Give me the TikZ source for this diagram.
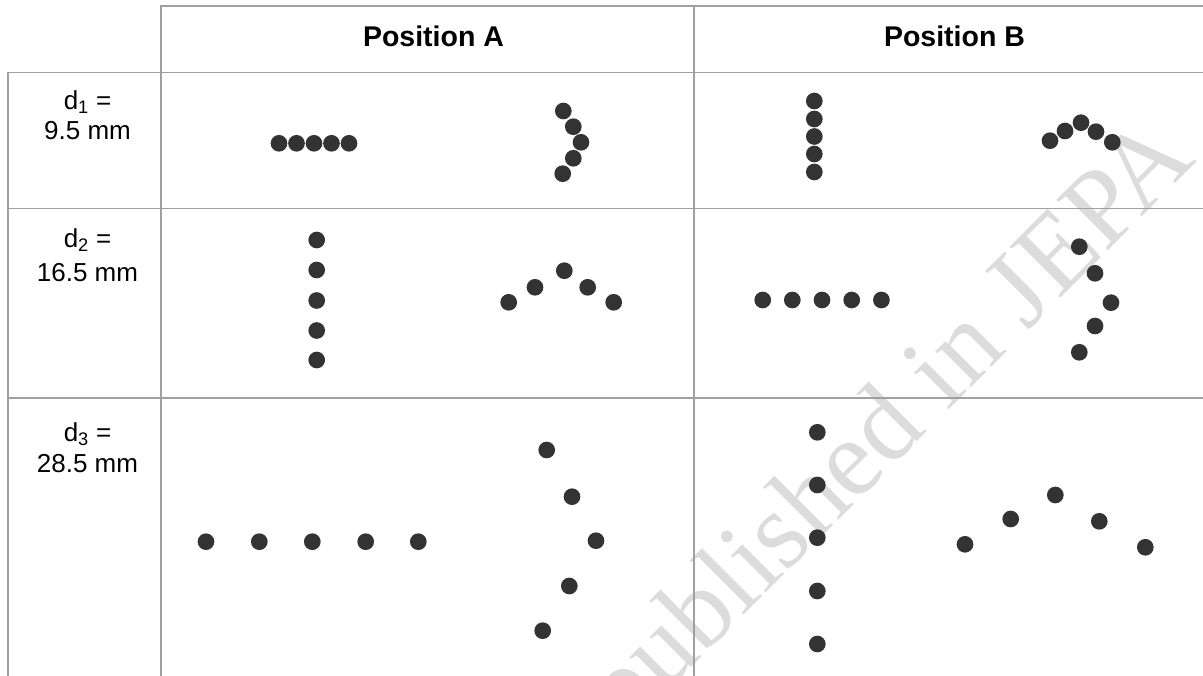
\documentclass[tikz,border=0pt]{standalone}
\usepackage{fontspec}
\setmainfont{Liberation Sans}
\newfontfamily\wmfont{Liberation Serif}
\definecolor{dotc}{HTML}{333333}
\definecolor{rulec}{HTML}{A0A0A0}
\definecolor{wmc}{HTML}{DCDCDC}
\begin{document}
\begin{tikzpicture}[x=1pt,y=-1pt,
  dot/.style={circle,fill=dotc,draw=none,minimum size=16.7pt,inner sep=0pt},
  rule/.style={draw=rulec,line width=1.3pt},
  head/.style={font=\fontsize{28.5}{34}\selectfont\bfseries,anchor=base,inner sep=0pt},
  lab/.style={font=\fontsize{26}{31}\selectfont,anchor=base,inner sep=0pt},
  wm/.style={font=\wmfont\fontsize{110}{130}\selectfont,text=wmc,rotate=45,anchor=base east,inner sep=0pt}]
\useasboundingbox (0,0) rectangle (1203,676);
\fill[white] (0,0) rectangle (1203,676);
% watermark
\begin{scope}
\clip (0,0) rectangle (1203,676);
\node[wm] (wmark) at (1198,161) {Not published in JEPA};
\end{scope}
% table rules
\draw[rule] (161,6) -- (1203,6);
\draw[rule] (8,72.5) -- (1203,72.5);
\draw[rule] (8,208.5) -- (1203,208.5);
\draw[rule] (8,398) -- (1203,398);
\draw[rule] (8,72.5) -- (8,676);
\draw[rule] (161,5) -- (161,676);
\draw[rule] (694,5) -- (694,676);
% headers
\node[head] (hA) at (433.5,46.5) {Position A};
\node[head] (hB) at (954.5,46.5) {Position B};
% row labels
\node[lab] (d1a) at (87.5,110) {d\textsubscript{1} =};
\node[lab] (d1b) at (87.5,140) {9.5 mm};
\node[lab] (d2a) at (87.5,247.5) {d\textsubscript{2} =};
\node[lab] (d2b) at (87.5,281.5) {16.5 mm};
\node[lab] (d3a) at (87.5,441.5) {d\textsubscript{3} =};
\node[lab] (d3b) at (87.5,472.5) {28.5 mm};
% row 1
\foreach \px/\py [count=\i] in {279/143.3,296.5/143.3,314/143.3,331.5/143.3,349/143.3}
  \node[dot] (r1ah\i) at (\px,\py) {};
\foreach \px/\py [count=\i] in {563.3/111,573.3/126.7,581/142.3,573.3/158.3,562.7/173.7}
  \node[dot] (r1ac\i) at (\px,\py) {};
\foreach \px/\py [count=\i] in {814.3/101,814.3/119,814.3/136.5,814.3/154,814.3/172}
  \node[dot] (r1bv\i) at (\px,\py) {};
\foreach \px/\py [count=\i] in {1050/140.7,1065/131,1081/122.7,1096/131.7,1112.3/142.3}
  \node[dot] (r1ba\i) at (\px,\py) {};
% row 2
\foreach \px/\py [count=\i] in {316.7/240,316.7/270,316.7/300.5,316.7/330.5,316.7/360}
  \node[dot] (r2av\i) at (\px,\py) {};
\foreach \px/\py [count=\i] in {508.7/302.3,535/287.3,564.3/270.7,587.7/287.3,613.7/302.3}
  \node[dot] (r2aa\i) at (\px,\py) {};
\foreach \px/\py [count=\i] in {762.7/300,792.3/300,822/300,851.7/300,881.4/300}
  \node[dot] (r2bh\i) at (\px,\py) {};
\foreach \px/\py [count=\i] in {1079.3/246.7,1095/273.3,1111/302.7,1095/326,1079.3/352.3}
  \node[dot] (r2bc\i) at (\px,\py) {};
% row 3
\foreach \px/\py [count=\i] in {206/541.7,259.3/541.7,312.3/541.7,365.7/541.7,418.3/541.7}
  \node[dot] (r3ah\i) at (\px,\py) {};
\foreach \px/\py [count=\i] in {546.7/450,572/496.7,596/540.7,569.3/586,542.7/630.7}
  \node[dot] (r3ac\i) at (\px,\py) {};
\foreach \px/\py [count=\i] in {817.3/432.3,817.3/485,817.3/537.7,817.3/591,817.3/644}
  \node[dot] (r3bv\i) at (\px,\py) {};
\foreach \px/\py [count=\i] in {965/544.3,1010.7/519,1055.3/495,1099.3/521.3,1145.3/547.3}
  \node[dot] (r3ba\i) at (\px,\py) {};
\end{tikzpicture}
\end{document}
